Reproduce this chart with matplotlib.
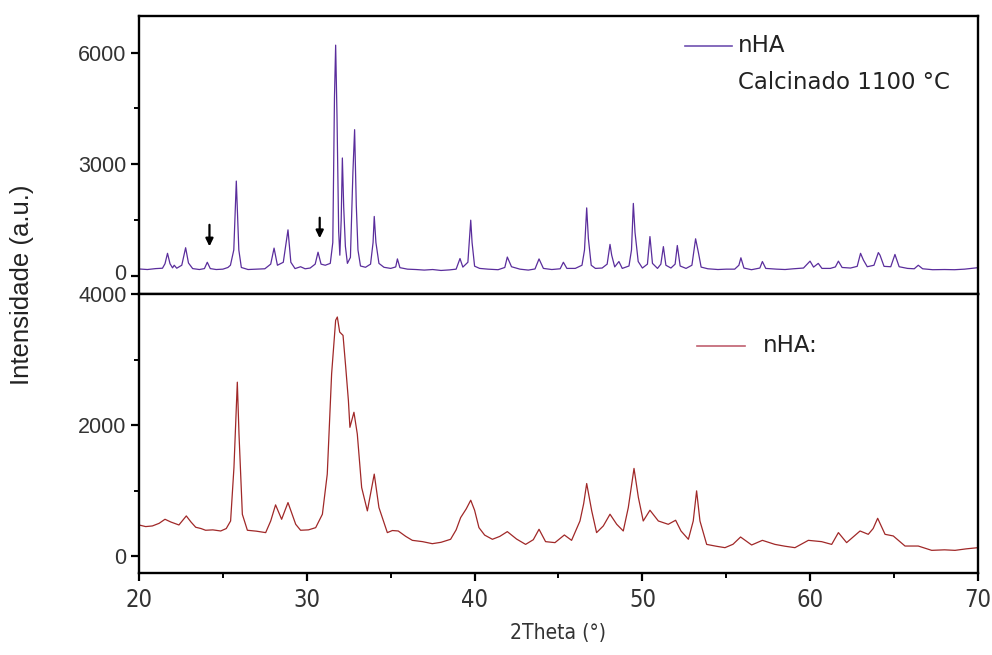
import matplotlib
matplotlib.use("Agg")
import matplotlib.pyplot as plt
import matplotlib.transforms as mtransforms
from matplotlib.font_manager import FontProperties
from matplotlib.ticker import MultipleLocator

# nHA calcinado 1100 C (top panel)
calc_2theta = [
    20.0, 20.5, 21.0, 21.4, 21.55, 21.7, 21.85, 22.0, 22.1, 22.25,
    22.55, 22.78, 22.95, 23.2, 23.6, 23.9, 24.07, 24.25, 24.6, 25.0,
    25.3, 25.45, 25.65, 25.8, 25.95, 26.1, 26.5, 27.0, 27.5, 27.85,
    28.05, 28.25, 28.6, 28.88, 29.05, 29.3, 29.63, 29.9, 30.2, 30.5,
    30.67, 30.85, 31.1, 31.4, 31.55, 31.65, 31.72, 31.8, 31.9, 31.97,
    32.05, 32.12, 32.2, 32.3, 32.42, 32.6, 32.75, 32.85, 32.95, 33.05,
    33.2, 33.5, 33.8, 33.95, 34.02, 34.12, 34.3, 34.6, 35.0, 35.3,
    35.4, 35.55, 36.0, 36.5, 37.0, 37.5, 38.0, 38.5, 38.9, 39.13,
    39.3, 39.6, 39.77, 39.85, 40.0, 40.3, 40.8, 41.4, 41.8, 41.95,
    42.2, 42.7, 43.2, 43.6, 43.84, 44.1, 44.6, 45.1, 45.29, 45.5,
    46.0, 46.4, 46.55, 46.68, 46.78, 46.95, 47.2, 47.6, 47.9, 48.07,
    48.17, 48.35, 48.6, 48.8, 49.2, 49.35, 49.46, 49.56, 49.75, 50.0,
    50.3, 50.45, 50.6, 50.9, 51.1, 51.25, 51.4, 51.7, 51.95, 52.08,
    52.25, 52.6, 52.95, 53.17, 53.33, 53.5, 53.9, 54.5, 55.0, 55.5,
    55.75, 55.87, 56.05, 56.5, 57.0, 57.15, 57.35, 58.0, 58.5, 59.0,
    59.6, 59.99, 60.2, 60.48, 60.7, 61.2, 61.5, 61.68, 61.9, 62.4,
    62.8, 63.0, 63.17, 63.4, 63.8, 64.06, 64.16, 64.4, 64.8, 65.05,
    65.3, 65.8, 66.2, 66.44, 66.7, 67.3, 68.0, 68.6, 69.2, 69.6,
    70.0,
]
calc_int = [
    190, 175, 200, 210, 330, 610, 330, 220, 290, 210,
    290, 760, 350, 200, 175, 200, 370, 200, 175, 185,
    230, 290, 700, 2550, 700, 230, 175, 185, 195, 320,
    750, 290, 370, 1240, 370, 200, 250, 195, 215, 320,
    640, 320, 290, 340, 900, 4800, 6200, 4300, 1200, 560,
    1500, 3170, 1850, 800, 340, 500, 2800, 3930, 1900, 700,
    270, 235, 320, 900, 1600, 900, 340, 235, 205, 245,
    460, 225, 185, 175, 160, 175, 150, 165, 185, 470,
    240, 370, 1500, 900, 265, 205, 185, 170, 230, 510,
    250, 185, 160, 190, 460, 205, 175, 195, 370, 205,
    205, 290, 700, 1830, 1010, 290, 205, 215, 320, 850,
    560, 245, 390, 205, 270, 700, 1950, 1170, 390, 215,
    320, 1060, 340, 205, 320, 790, 290, 215, 320, 820,
    270, 205, 290, 1000, 650, 240, 195, 175, 185, 185,
    290, 490, 215, 170, 215, 390, 205, 185, 175, 195,
    215, 400, 240, 340, 205, 205, 245, 400, 230, 215,
    260, 610, 430, 250, 290, 630, 560, 260, 250, 580,
    250, 205, 195, 290, 195, 170, 175, 170, 185, 205,
    225,
]

# nHA (bottom panel)
nha_2theta = [
    20.0, 20.4, 20.8, 21.2, 21.55, 21.9, 22.38, 22.82, 23.1, 23.38,
    23.7, 23.97, 24.4, 24.87, 25.2, 25.46, 25.66, 25.86, 25.96, 26.16,
    26.46, 27.0, 27.55, 27.85, 28.14, 28.5, 28.88, 29.34, 29.63, 30.1,
    30.53, 30.93, 31.22, 31.48, 31.72, 31.82, 31.96, 32.16, 32.32, 32.48,
    32.57, 32.81, 33.01, 33.27, 33.61, 34.02, 34.3, 34.8, 35.1, 35.45,
    35.9, 36.29, 36.9, 37.48, 38.0, 38.57, 38.9, 39.17, 39.5, 39.77,
    40.0, 40.26, 40.6, 41.06, 41.5, 41.95, 42.5, 43.04, 43.5, 43.84,
    44.23, 44.79, 45.35, 45.78, 46.28, 46.5, 46.68, 46.98, 47.27, 47.67,
    48.07, 48.47, 48.86, 49.16, 49.5, 49.76, 50.05, 50.45, 50.95, 51.54,
    51.98, 52.3, 52.74, 53.03, 53.23, 53.43, 53.83, 54.4, 54.92, 55.4,
    55.85, 56.51, 57.15, 57.9, 58.5, 59.09, 59.89, 60.68, 61.28, 61.68,
    62.17, 62.97, 63.46, 63.75, 64.02, 64.46, 64.95, 65.65, 66.44, 67.24,
    68.0, 68.63, 69.3, 70.0,
]
nha_int = [
    475, 450, 460, 500, 562, 520, 475, 613, 520, 440,
    420, 394, 400, 383, 420, 536, 1354, 2657, 1865, 638,
    394, 380, 358, 536, 782, 562, 817, 485, 394, 400,
    434, 639, 1252, 2785, 3603, 3653, 3423, 3372, 2887, 2376,
    1967, 2197, 1865, 1047, 690, 1252, 741, 358, 390, 383,
    300, 240, 220, 189, 210, 256, 400, 588, 720, 853,
    700, 434, 320, 256, 300, 373, 260, 178, 250, 409,
    220, 205, 322, 240, 536, 800, 1108, 690, 358, 460,
    639, 485, 383, 741, 1339, 895, 536, 700, 536, 485,
    547, 383, 256, 536, 996, 536, 178, 150, 128, 180,
    291, 169, 240, 178, 150, 128, 240, 220, 178, 358,
    205, 383, 332, 420, 577, 332, 307, 153, 153, 87,
    95, 87, 110, 128,
]

x_ticks = [20, 30, 40, 50, 60, 70]

sans = ["Liberation Sans", "DejaVu Sans"]
narrow = ["Liberation Sans Narrow", "DejaVu Sans"]

fig = plt.figure(figsize=(9.92, 6.55), dpi=100)
ax_top = fig.add_axes([0.1401, 0.5507, 0.8458, 0.4253])
ax_bot = fig.add_axes([0.1401, 0.1256, 0.8458, 0.4251], sharex=ax_top)

ax_top.plot(calc_2theta, calc_int, color="#5a2d9c", lw=0.9)
ax_bot.plot(nha_2theta, nha_int, color="#a02828", lw=0.9)

ax_top.set_xlim(20, 70)
ax_top.set_ylim(-490, 6990)
ax_bot.set_ylim(-255, 4000)

ax_top.set_yticks([0, 3000, 6000])
ax_top.yaxis.set_minor_locator(MultipleLocator(1500))
ax_top.tick_params(axis="x", which="both", bottom=False, labelbottom=False)

ax_bot.set_yticks([0, 2000, 4000])
ax_bot.yaxis.set_minor_locator(MultipleLocator(1000))
ax_bot.set_xticks(x_ticks)
ax_bot.xaxis.set_minor_locator(MultipleLocator(5))

for ax in (ax_top, ax_bot):
    for s in ax.spines.values():
        s.set_linewidth(1.7)
    ax.tick_params(which="major", direction="out", length=6, width=1.6, pad=3)
    ax.tick_params(which="minor", direction="out", length=3.5, width=1.4)
    ax.tick_params(axis="y", labelsize=15.5, labelcolor="#333333",
                   labelfontfamily="Liberation Sans")
ax_bot.tick_params(axis="x", labelcolor="#333333", pad=5)

fig.canvas.draw()
# condensed x tick labels like the original
for lab in ax_bot.get_xticklabels():
    lab.set_fontproperties(FontProperties(family=narrow, stretch="condensed", size=17))

# nudge the top panel "0" up a little so it does not sit on the "4000"
zero_lab = ax_top.get_yticklabels()[0]
zero_lab.set_transform(zero_lab.get_transform() +
                       mtransforms.ScaledTranslation(0, 3 / 72, fig.dpi_scale_trans))

ax_bot.set_xlabel("2Theta (°)", family=narrow, fontstretch="condensed",
                  fontsize=15, color="#333333", labelpad=8)
fig.text(0.022, 0.565, "Intensidade (a.u.)", rotation=90, ha="center",
         va="center", family=sans, fontsize=18.5, color="#222222")

# arrows marking extra phase peaks
for xa, y0, y1 in [(24.2, 1450, 720), (30.77, 1640, 940)]:
    ax_top.annotate("", xy=(xa, y1), xytext=(xa, y0),
                    arrowprops=dict(arrowstyle="-|>,head_width=0.22,head_length=0.45",
                                    color="black", lw=1.6))

# legends drawn by hand to match the original layout
ax_top.plot([0.651, 0.707], [0.892, 0.892], transform=ax_top.transAxes,
            color="#7050b0", lw=1.2)
ax_top.text(0.714, 0.892, "nHA", transform=ax_top.transAxes, va="center",
            family=["DejaVu Sans"], fontsize=16.5, color="#222222")
ax_top.text(0.714, 0.762, "Calcinado 1100 °C", transform=ax_top.transAxes,
            va="center", family=["DejaVu Sans"], fontsize=16.5, color="#222222")
ax_bot.plot([0.665, 0.722], [0.815, 0.815], transform=ax_bot.transAxes,
            color="#c06070", lw=1.2)
ax_bot.text(0.743, 0.815, "nHA:", transform=ax_bot.transAxes, va="center",
            family=["DejaVu Sans"], fontsize=16.5, color="#222222")

fig.savefig("out.png", dpi=100)
